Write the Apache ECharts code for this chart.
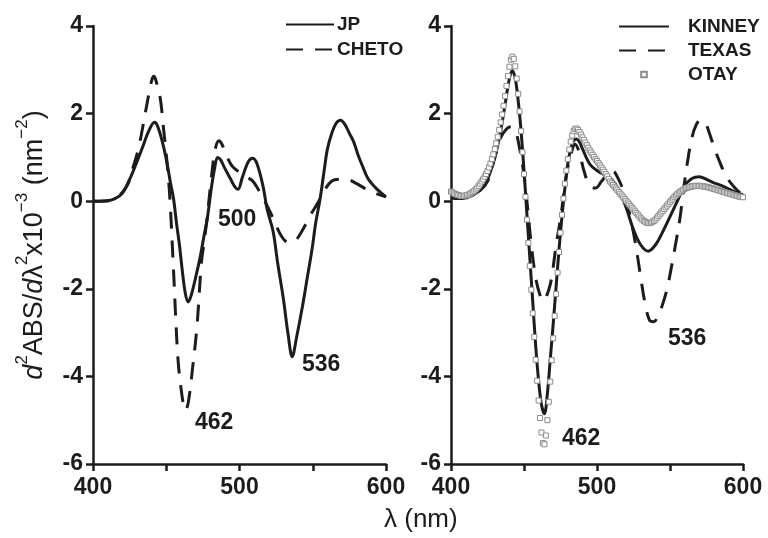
<!DOCTYPE html>
<html>
<head>
<meta charset="utf-8">
<script src="https://cdn.jsdelivr.net/npm/echarts@6/dist/echarts.min.js"></script>
<style>
  html, body { margin: 0; padding: 0; background: #fff; }
  #chart { width: 768px; height: 538px; }
</style>
</head>
<body>
<div id="chart"></div>
<script>
// left panel: [wavelength nm, d2ABS/dl2 x10^-3]
var jp = [[400,0],[405,0],[410,0.01],[415,0.06],[420,0.18],[425,0.5],[430,0.9],[434,1.25],[438,1.6],[442,1.8],[444,1.72],[447,1.4],
  [450,0.96],[453,0.4],[455,0.05],[457,-0.5],[459,-1.0],[461,-1.6],[463,-2.1],[465,-2.3],[467,-2.15],[470,-1.75],[473,-1.3],
  [476,-0.75],[478,-0.4],[481,0.35],[483,0.75],[485,1.0],[487,0.95],[490,0.75],[494,0.5],[497,0.32],[499,0.27],[502,0.55],
  [506,0.9],[509,0.98],[512,0.85],[516,0.35],[519,-0.2],[523,-0.7],[526,-1.4],[530,-2.24],[533,-3.0],[536,-3.55],[539,-3.1],
  [543,-2.4],[546,-1.8],[549.5,-1.1],[552,-0.5],[555,0.05],[558,0.75],[560,1.19],[563,1.55],[566,1.78],[569,1.85],[572,1.75],
  [575,1.55],[578,1.35],[581,1.05],[584,0.8],[588,0.5],[594,0.27],[600,0.1]];

var cheto = [[400,0],[410,0.01],[415,0.06],[420,0.2],[424,0.4],[427,0.73],[431,1.2],[434,1.7],[437,2.25],[440,2.75],[441.5,2.85],
  [443,2.75],[446,2.33],[448,1.7],[450.5,0.9],[452.5,0.05],[455,-1.6],[458,-3.6],[461,-4.5],[463,-4.78],[465,-4.6],[468,-3.8],
  [471,-2.85],[474,-1.4],[476,-0.9],[478,-0.35],[481,0.6],[483.5,1.2],[486,1.38],[488,1.3],[491,1.05],[495,0.8],[500,0.66],
  [505,0.55],[509,0.46],[514,0.2],[521,-0.25],[527,-0.7],[531,-0.9],[535,-0.95],[539,-0.87],[544,-0.6],[548,-0.34],
  [553.6,-0.03],[558,0.25],[563,0.46],[568,0.5],[573,0.5],[580,0.4],[589,0.23],[598,0.12],[600,0.1]];

// right panel
var kinney = [[400,0.08],[405,0.06],[410,0.08],[415,0.14],[420,0.26],[425,0.5],[430,1.0],[434,1.6],[437,2.2],[440,2.8],[442,2.98],
  [444,2.8],[446,2.3],[448,1.6],[450,0.7],[452,-0.3],[454,-1.3],[456,-2.3],[458,-3.3],[460,-4.1],[462,-4.65],[464,-4.85],
  [466,-4.4],[468,-3.6],[470,-2.8],[472,-1.95],[474,-1.1],[476,-0.35],[478,0.3],[480,0.85],[482,1.2],[484,1.38],[486,1.42],
  [488,1.35],[490,1.2],[495,0.85],[500,0.7],[505,0.6],[510,0.5],[515,0.25],[520,-0.15],[525,-0.65],[530,-1.0],[535,-1.14],
  [540,-1.0],[545,-0.7],[550,-0.35],[555,0.0],[560,0.35],[565,0.52],[570,0.56],[575,0.5],[580,0.42],[585,0.36],[590,0.28],
  [595,0.2],[600,0.15]];

var texas = [[400,0.08],[410,0.08],[420,0.25],[425,0.45],[430,1.0],[434,1.45],[438,1.65],[441,1.7],[444,1.62],[447,1.2],[450,0.6],
  [452,0.0],[455,-1.0],[458,-1.75],[461,-2.15],[463,-2.28],[465,-2.2],[468,-1.9],[470,-1.5],[472,-1.0],[475,-0.4],[477,0.1],
  [479,0.6],[482,1.05],[485,1.3],[488,1.1],[491,0.7],[495,0.35],[499,0.3],[503,0.45],[508,0.65],[511,0.68],[514,0.55],
  [518,0.25],[521,-0.1],[524,-0.55],[527,-1.1],[530,-1.75],[533,-2.35],[536,-2.72],[539,-2.75],[542,-2.6],[545,-2.35],
  [548,-2.0],[551,-1.5],[554,-0.95],[557,-0.35],[559,0.2],[562,0.9],[565,1.45],[568,1.75],[571,1.85],[574,1.8],[577,1.55],
  [580,1.25],[584,0.9],[588,0.6],[592,0.4],[596,0.25],[600,0.15]];

// OTAY, one reading per nm from 400 to 600
var otayStart = 400;
var otay = [
  0.22,0.2,0.18,0.16,0.15,0.14,0.13,0.12,0.12,0.12,
  0.13,0.14,0.15,0.17,0.19,0.21,0.24,0.27,0.31,0.35,
  0.4,0.45,0.5,0.56,0.62,0.69,0.77,0.86,0.96,1.07,
  1.19,1.32,1.47,1.63,1.8,1.98,2.18,2.4,2.63,2.86,
  3.07,3.23,3.3,3.25,3.08,2.8,2.45,2.05,1.6,1.12,
  0.62,0.1,-0.42,-0.95,-1.48,-2.02,-2.56,-3.1,-3.62,-4.1,
  -4.55,-4.95,-5.28,-5.52,-5.55,-5.35,-5.0,-4.58,-4.12,-3.63,
  -3.13,-2.62,-2.12,-1.63,-1.16,-0.72,-0.31,0.06,0.4,0.7,
  0.96,1.18,1.36,1.5,1.6,1.65,1.66,1.63,1.58,1.52,
  1.46,1.4,1.34,1.28,1.22,1.16,1.11,1.06,1.01,0.96,
  0.92,0.87,0.82,0.77,0.72,0.67,0.62,0.57,0.51,0.45,
  0.41,0.37,0.33,0.29,0.25,0.21,0.17,0.13,0.09,0.05,
  0.01,-0.03,-0.07,-0.11,-0.15,-0.19,-0.23,-0.27,-0.31,-0.35,
  -0.39,-0.42,-0.45,-0.47,-0.49,-0.5,-0.5,-0.49,-0.47,-0.45,
  -0.42,-0.38,-0.34,-0.3,-0.26,-0.22,-0.18,-0.14,-0.1,-0.06,
  -0.02,0.02,0.06,0.1,0.13,0.16,0.19,0.22,0.24,0.26,
  0.28,0.3,0.31,0.32,0.33,0.34,0.34,0.35,0.35,0.35,
  0.35,0.35,0.34,0.34,0.33,0.33,0.32,0.31,0.3,0.29,
  0.28,0.27,0.26,0.25,0.24,0.23,0.22,0.21,0.2,0.19,
  0.18,0.17,0.16,0.15,0.14,0.13,0.12,0.11,0.1,0.1,
  0.09
];

var xTicks = [400, 500, 600];
var yTicks = [-6, -4, -2, 0, 2, 4];

var font = 'Liberation Sans, Arial, Helvetica, sans-serif';
var ink = '#1c1c1c';
var fw = 'bold';

function xAxisOf(grid) {
  return {
    type: 'value', gridIndex: grid, min: 400, max: 600, interval: 50,
    axisLine: { onZero: false, lineStyle: { color: ink, width: 2.5 } },
    axisTick: { length: 7, lineStyle: { color: ink, width: 2.5 } },
    axisLabel: {
      margin: 12, color: ink, fontSize: 23, fontWeight: fw, fontFamily: font,
      formatter: function (v) { return xTicks.indexOf(v) >= 0 ? String(v) : ''; }
    },
    splitLine: { show: false }
  };
}
function yAxisOf(grid) {
  return {
    type: 'value', gridIndex: grid, min: -6, max: 4, interval: 2,
    axisLine: { show: true, onZero: false, lineStyle: { color: ink, width: 2.5 } },
    axisTick: { show: true, length: 7, lineStyle: { color: ink, width: 2.5 } },
    axisLabel: {
      margin: 10, color: ink, fontSize: 23, fontWeight: fw, fontFamily: font,
      formatter: function (v) { return yTicks.indexOf(v) >= 0 ? String(v) : ''; }
    },
    splitLine: { show: false }
  };
}

function lineSeries(name, data, grid, dashed) {
  return {
    name: name, type: 'line', xAxisIndex: grid, yAxisIndex: grid,
    data: data, smooth: 0.35, showSymbol: false, symbol: 'none',
    lineStyle: { color: ink, width: 3, type: dashed ? [17, 12] : 'solid' },
    itemStyle: { color: ink },
    z: 2
  };
}
function legendItem(name) {
  return { name: name, itemStyle: { opacity: 0 } };
}

var otayData = otay.map(function (v, i) { return [otayStart + i, v]; });

var chart = echarts.init(document.getElementById('chart'), null, { renderer: 'canvas' });
var yName = '{i|d}{s|2}{n|ABS/}{i|d}{n|λ}{s|2}{n|x10}{s|−3}{n| (nm}{s|−2}{n|)}';
var labelStyle = { fontSize: 23, fontWeight: fw, fontFamily: font, fill: ink };

chart.setOption({
  backgroundColor: '#fff',
  animation: false,
  textStyle: { fontFamily: font },
  grid: [
    { left: 93, right: 382, top: 26, bottom: 74 },
    { left: 451, right: 25, top: 26, bottom: 74 }
  ],
  xAxis: [xAxisOf(0), xAxisOf(1)],
  yAxis: [
    Object.assign(yAxisOf(0), {
      name: yName, nameLocation: 'middle', nameGap: 45, nameRotate: 90,
      nameTextStyle: {
        color: ink, fontFamily: font,
        rich: {
          n: { fontSize: 27, color: ink, fontFamily: font, lineHeight: 34, verticalAlign: 'bottom' },
          i: { fontSize: 27, color: ink, fontFamily: font, fontStyle: 'italic', lineHeight: 34, verticalAlign: 'bottom' },
          s: { fontSize: 17, color: ink, fontFamily: font, lineHeight: 34, verticalAlign: 'top' }
        }
      }
    }),
    yAxisOf(1)
  ],
  legend: [
    {
      data: [legendItem('JP'), legendItem('CHETO')], orient: 'vertical', left: 280, top: 10,
      itemWidth: 48, itemHeight: 8, itemGap: 6,
      textStyle: { fontSize: 19, fontWeight: fw, color: ink, fontFamily: font, padding: [0, 0, 0, -2] },
      selectedMode: false
    },
    {
      data: [legendItem('KINNEY'), legendItem('TEXAS'), 'OTAY'], orient: 'vertical', left: 613, top: 12,
      itemWidth: 50, itemHeight: 7, itemGap: 5,
      textStyle: { fontSize: 19, fontWeight: fw, color: ink, fontFamily: font, padding: [0, 0, 0, 14] },
      selectedMode: false
    }
  ],
  graphic: [
    { type: 'text', left: 218, top: 208, style: Object.assign({ text: '500' }, labelStyle) },
    { type: 'text', left: 302, top: 353, style: Object.assign({ text: '536' }, labelStyle) },
    { type: 'text', left: 195, top: 411, style: Object.assign({ text: '462' }, labelStyle) },
    { type: 'text', left: 562, top: 427, style: Object.assign({ text: '462' }, labelStyle) },
    { type: 'text', left: 668, top: 327, style: Object.assign({ text: '536' }, labelStyle) },
    { type: 'text', left: 384, top: 507, style: { text: 'λ (nm)', fontSize: 26, fontFamily: font, fill: ink } }
  ],
  series: [
    lineSeries('JP', jp, 0, false),
    lineSeries('CHETO', cheto, 0, true),
    lineSeries('TEXAS', texas, 1, true),
    lineSeries('KINNEY', kinney, 1, false),
    {
      name: 'OTAY', type: 'line', xAxisIndex: 1, yAxisIndex: 1,
      data: otayData, showSymbol: true, symbol: 'rect', symbolSize: 5,
      lineStyle: { width: 0, opacity: 0 },
      itemStyle: { color: '#ffffff', borderColor: '#8c8c8c', borderWidth: 1 },
      z: 5
    }
  ]
});
</script>
</body>
</html>
